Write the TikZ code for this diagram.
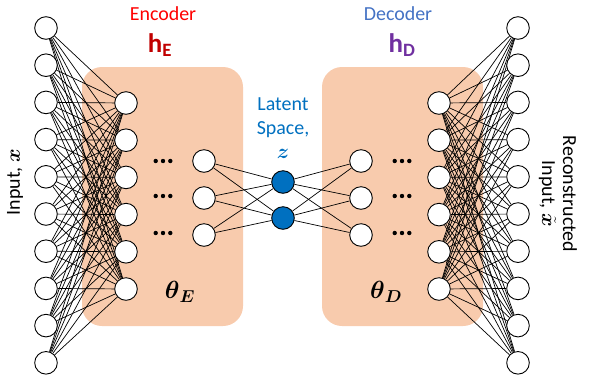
\documentclass[tikz,border=0pt]{standalone}
\usepackage{amsmath}
\usepackage{fontspec}
\setmainfont{Carlito}
\definecolor{boxor}{HTML}{F8CBAD}
\definecolor{encred}{HTML}{FF0000}
\definecolor{hered}{HTML}{C00000}
\definecolor{decblue}{HTML}{4472C4}
\definecolor{hdpurp}{HTML}{7030A0}
\definecolor{latblue}{HTML}{0070C0}
\pgfdeclarelayer{panellayer}
\pgfdeclarelayer{edgelayer}
\pgfsetlayers{panellayer,edgelayer,main}
\tikzset{
  neuron/.style={circle,draw=black,line width=0.9bp,fill=white,minimum size=22.6bp,inner sep=0pt},
  latent/.style={neuron,fill=latblue},
  conn/.style={draw=black,line width=0.7bp},
  panel/.style={fill=boxor,rounded corners=20bp,draw=none},
  lbl/.style={font=\fontsize{20}{24}\selectfont,inner sep=0pt},
  hlbl/.style={inner sep=0pt,font=\fontsize{27}{30}\selectfont\bfseries},
  thlbl/.style={inner sep=0pt,font=\fontsize{27}{30}\selectfont},
  dotsty/.style={circle,fill=black,inner sep=0pt,minimum size=4.4bp}
}
\begin{document}
\begin{tikzpicture}[x=1bp,y=-1bp]
\useasboundingbox (0,0) rectangle (591,379);
% panels
\begin{pgfonlayer}{panellayer}
\path[panel] (82,67) rectangle (243,326);
\path[panel] (322,67) rectangle (483,326);
\end{pgfonlayer}
% input and output layers
\foreach \i in {1,...,10} {
  \pgfmathsetmacro\yy{28+(\i-1)*37.2}
  \node[neuron] (in\i) at (46,\yy) {};
  \node[neuron] (out\i) at (518,\yy) {};
}
% hidden layers with 6 nodes
\foreach \i in {1,...,6} {
  \pgfmathsetmacro\yy{103+(\i-1)*37.2}
  \node[neuron] (ea\i) at (126,\yy) {};
  \node[neuron] (db\i) at (439,\yy) {};
}
% hidden layers with 3 nodes
\foreach \i in {1,...,3} {
  \pgfmathsetmacro\yy{161+(\i-1)*37}
  \node[neuron] (eb\i) at (204,\yy) {};
  \node[neuron] (da\i) at (361,\yy) {};
}
% latent
\node[latent] (z1) at (283,182) {};
\node[latent] (z2) at (283,218) {};
% connections
\begin{pgfonlayer}{edgelayer}
\foreach \i in {1,...,10} {
  \foreach \j in {1,...,6} {
    \draw[conn] (in\i) -- (ea\j);
    \draw[conn] (db\j) -- (out\i);
  }
}
\foreach \i in {1,...,3} {
  \foreach \j in {1,2} {
    \draw[conn] (eb\i) -- (z\j);
    \draw[conn] (z\j) -- (da\i);
  }
}
\end{pgfonlayer}
% dots
\foreach \yy [count=\k] in {161,196,233} {
  \foreach \dx [count=\m] in {-7.3,0,7.3} {
    \node[dotsty] (edot\k\m) at (163+\dx,\yy) {};
    \node[dotsty] (ddot\k\m) at (402+\dx,\yy) {};
  }
}
% labels
\node[lbl,text=encred] (enc) at (163,14) {Encoder};
\node[lbl,text=decblue] (dec) at (398,14) {Decoder};
\node[hlbl,text=hered] (hE) at (160,45) {h\textsubscript{E}};
\node[hlbl,text=hdpurp] (hD) at (402,45) {h\textsubscript{D}};
\node[lbl,text=latblue,align=center] (lat) at (283,128) {Latent\\Space,\\$\boldsymbol{z}$};
\node[thlbl] (thE) at (180,292) {$\boldsymbol{\theta}_{\boldsymbol{E}}$};
\node[thlbl] (thD) at (386,292) {$\boldsymbol{\theta}_{\boldsymbol{D}}$};
\node[lbl,rotate=90] (inl) at (15,182) {Input, $\boldsymbol{x}$};
\node[lbl,rotate=-90,align=center,font=\fontsize{20}{21}\selectfont] (outl) at (558,194) {Reconstructed\\Input, $\tilde{\boldsymbol{x}}$};
\end{tikzpicture}
\end{document}
